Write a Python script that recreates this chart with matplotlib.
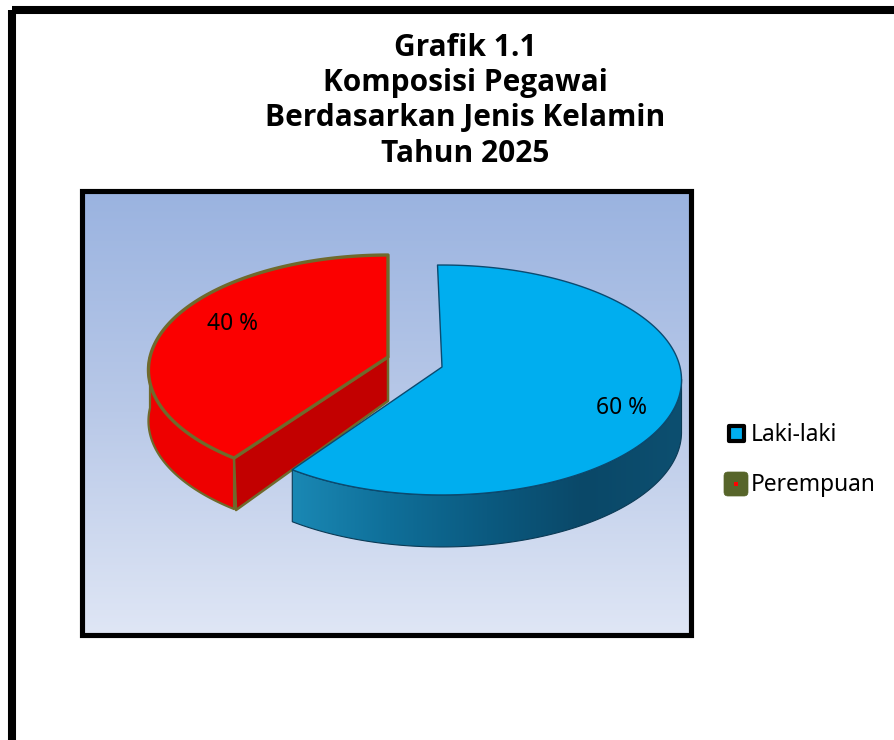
import numpy as np
import matplotlib
matplotlib.use("Agg")
import matplotlib.pyplot as plt
from matplotlib.patches import Polygon, Rectangle, FancyBboxPatch
from matplotlib.colors import LinearSegmentedColormap

categories = ["Laki-laki", "Perempuan"]
values = [60, 40]
value_labels = ["60 %", "40 %"]
title_lines = ["Grafik 1.1", "Komposisi Pegawai", "Berdasarkan Jenis Kelamin", "Tahun 2025"]

plt.rcParams['font.family'] = ['Noto Sans', 'DejaVu Sans']
fig = plt.figure(figsize=(8.94, 7.4), dpi=100, facecolor='white')
ax = fig.add_axes([0, 0, 1, 1])
ax.set_xlim(0, 894)
ax.set_ylim(740, 0)
ax.axis('off')

PERSP = 0.113
K = 113.5
RADIUS = 238
DEPTH = 52


def project(cx, cy, t_deg, radius=RADIUS):
    t = np.radians(t_deg)
    w = 1 + PERSP * np.sin(t)
    return cx + radius * np.cos(t) / w, cy - K * np.sin(t) / w


def arc(cx, cy, start, end, n=160, radius=RADIUS):
    x, y = project(cx, cy, np.linspace(start, end, n), radius)
    return np.column_stack([x, y])


# outer frame (runs off the canvas)
ax.add_patch(Rectangle((12, 10), 1000, 1000, fill=False, ec='black', lw=5.8, zorder=1))

# plot box with gradient background
BOX = (81.5, 690.5, 634.5, 190.5)
bg = LinearSegmentedColormap.from_list('bg', ['#9ab3e0', '#b9c9e8', '#dfe6f5'])
ax.imshow(np.linspace(0, 1, 256).reshape(-1, 1), cmap=bg, aspect='auto',
          extent=BOX, zorder=2)
ax.add_patch(Rectangle((BOX[0], BOX[3]), BOX[1] - BOX[0], BOX[2] - BOX[3],
                       fill=False, ec='black', lw=3.7, zorder=20))

total = sum(values)
sweeps = [v / total * 360 for v in values]

# ----- Perempuan (red) slice
RED_C = (388, 357)
r_start = 90.0 + sweeps[1]
r_end = 90.0
red_edge = '#6f6a2c'
lower = arc(*RED_C, r_start, 180)
wall = np.vstack([lower, (lower + [0, DEPTH * 0.98])[::-1]])
ax.add_patch(Polygon(wall, fc='#ee0000', ec=red_edge, lw=1.6, zorder=5, joinstyle='round'))
apex_x, apex_y = project(*RED_C, r_start)
face = [RED_C, (apex_x, apex_y), (apex_x + 2, apex_y + DEPTH), (RED_C[0], RED_C[1] + 44)]
ax.add_patch(Polygon(face, fc='#c20000', ec=red_edge, lw=1.8, zorder=6, joinstyle='round'))
top = np.vstack([[RED_C], arc(*RED_C, r_start, r_end)])
ax.add_patch(Polygon(top, closed=True, fc='#fb0000', ec=red_edge, lw=2.4, zorder=7, joinstyle='round'))

# ----- Laki-laki (blue) slice
BLUE_C = (442, 367)
b_start = 91.2
b_end = b_start - sweeps[0]
front = arc(*BLUE_C, b_end, -6)
wall = np.vstack([front, (front + [0, DEPTH])[::-1]])
poly = Polygon(wall, fc='none', ec='#0b3a55', lw=0.8, zorder=9)
ax.add_patch(poly)
grad = LinearSegmentedColormap.from_list(
    'wall', ['#1a88b4', '#0f6f99', '#0b5a80', '#0a4868', '#0d4f70'])
im = ax.imshow(np.linspace(0, 1, 256).reshape(1, -1), cmap=grad, aspect='auto',
               extent=(wall[:, 0].min(), wall[:, 0].max(), wall[:, 1].max(), wall[:, 1].min()),
               zorder=8)
im.set_clip_path(Polygon(wall, transform=ax.transData))
top = np.vstack([[BLUE_C], arc(*BLUE_C, b_start, b_end)])
ax.add_patch(Polygon(top, closed=True, fc='#00aeef', ec='#0b4a70', lw=1.0, zorder=10, joinstyle='round'))
ax.set_xlim(0, 894)
ax.set_ylim(740, 0)

# value labels
ax.text(621, 408, value_labels[0], ha='center', va='center', fontsize=16.4, color='black', zorder=12)
ax.text(232.5, 324, value_labels[1], ha='center', va='center', fontsize=16.4, color='black', zorder=12)

# title
for line, y in zip(title_lines, [48, 83, 118, 154]):
    ax.text(465, y, line, ha='center', va='center', fontsize=21.5, fontweight='bold',
            family=['Open Sans', 'DejaVu Sans'], color='black', zorder=12)

# legend
ax.add_patch(Rectangle((729, 426), 15, 15, fc='#00aeef', ec='black', lw=3, zorder=12, joinstyle='round'))
ax.text(751, 435, categories[0], ha='left', va='center', fontsize=16.4, color='black', zorder=12)
ax.add_patch(FancyBboxPatch((726, 474), 20, 20, boxstyle='round,pad=2,rounding_size=4',
                            fc='#57652a', ec='#57652a', lw=0.5, zorder=12))
ax.add_patch(Rectangle((734, 481.5), 4, 4, fc='#ff0000', ec='none', zorder=13))
ax.text(751, 485, categories[1], ha='left', va='center', fontsize=16.4, color='black', zorder=12)

fig.savefig('out.png', dpi=100, facecolor='white')
